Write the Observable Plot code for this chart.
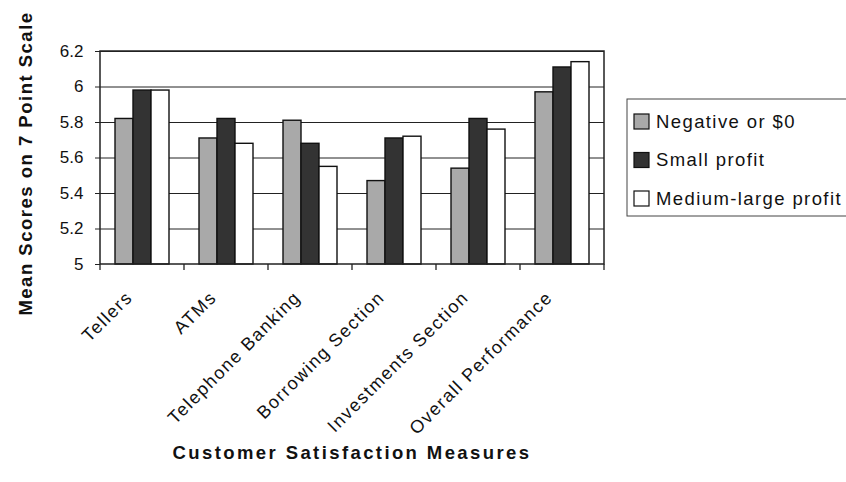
<!DOCTYPE html>
<html><head><meta charset="utf-8">
<script src="https://cdn.jsdelivr.net/npm/d3@7"></script>
<script src="https://cdn.jsdelivr.net/npm/@observablehq/plot@0.6"></script>
<style>
body{margin:0;background:#fff;}
#chart{position:relative;width:846px;height:482px;}
#chart g[aria-label="fx-axis tick label"] text{letter-spacing:1.5px;}
</style></head><body><div id="chart"></div>
<script>
const categories = ["Tellers","ATMs","Telephone Banking","Borrowing Section","Investments Section","Overall Performance"];
const series = ["Negative or $0","Small profit","Medium-large profit"];
const negative = [5.82,5.71,5.81,5.47,5.54,5.97];
const small = [5.98,5.82,5.68,5.71,5.82,6.11];
const medium = [5.98,5.68,5.55,5.72,5.76,6.14];
const yTicks = [5,5.2,5.4,5.6,5.8,6,6.2];
const seriesColors = ["#a9a9a9","#333333","#ffffff"];
const yTitle = "Mean Scores on 7 Point Scale";
const xTitle = "Customer Satisfaction Measures";

const data = categories.flatMap((c,i)=>[negative[i],small[i],medium[i]].map((v,j)=>({category:c, series:series[j], value:v})));
const FONT = "Arial, 'Liberation Sans', sans-serif";

const plot = Plot.plot({
  width:846, height:482,
  marginLeft:98, marginRight:241, marginTop:51, marginBottom:218,
  style:{fontFamily:FONT, fontSize:"17px", background:"#fff", color:"#111"},
  fx:{domain:categories, padding:0, label:null},
  x:{domain:series, axis:null, paddingInner:0, paddingOuter:0.8},
  y:{domain:[yTicks[0], yTicks[yTicks.length-1]], label:null},
  color:{domain:series, range:seriesColors},
  marks:[
    Plot.ruleY(yTicks.slice(1), {stroke:"#222", strokeWidth:1}),
    Plot.barY(data, {fx:"category", x:"series", y1:yTicks[0], y2:"value", fill:"series", stroke:"#111", strokeWidth:1.4}),
    Plot.axisY({ticks:yTicks, tickFormat:d=>String(+d.toFixed(1)), label:null, tickSize:5, tickPadding:12, fontSize:17, stroke:"#222"}),
    Plot.axisFx({anchor:"bottom", label:null, tickRotate:-45, tickSize:0, tickPadding:30, fontSize:18, dx:-13})
  ]
});
document.getElementById("chart").appendChild(plot);

const svg = d3.select(plot);
const fxS = plot.scale("fx"), yS = plot.scale("y"), colorS = plot.scale("color");
const pLeft = fxS.apply(categories[0]);
const pRight = fxS.apply(categories[categories.length-1]) + fxS.bandwidth;
const pTop = yS.apply(yTicks[yTicks.length-1]);
const pBottom = yS.apply(yTicks[0]);

// frame
svg.append("rect").attr("x",pLeft).attr("y",pTop).attr("width",pRight-pLeft).attr("height",pBottom-pTop)
  .attr("fill","none").attr("stroke","#222").attr("stroke-width",1.5);
// category boundary ticks
svg.append("g").selectAll("line").data(categories.concat([null])).join("line")
  .attr("x1",(d,i)=> i<categories.length ? fxS.apply(d) : pRight)
  .attr("x2",(d,i)=> i<categories.length ? fxS.apply(d) : pRight)
  .attr("y1",pBottom).attr("y2",pBottom+6).attr("stroke","#222").attr("stroke-width",1.3);

// y title
svg.append("text").attr("transform",`translate(32,${(pTop+pBottom)/2 + 6}) rotate(-90)`)
  .attr("text-anchor","middle").attr("font-family",FONT).attr("font-weight","bold").attr("font-size",18.5)
  .attr("letter-spacing",1.5).attr("fill","#111").text(yTitle);
// x title
svg.append("text").attr("x",(pLeft+pRight)/2).attr("y",459)
  .attr("text-anchor","middle").attr("font-family",FONT).attr("font-weight","bold").attr("font-size",18.5)
  .attr("letter-spacing",2.4).attr("fill","#111").text(xTitle);

// legend
const lg = svg.append("g").attr("transform","translate(627,99)");
lg.append("rect").attr("x",0).attr("y",0).attr("width",222).attr("height",117).attr("fill","#fff").attr("stroke","#444").attr("stroke-width",1);
const items = lg.selectAll("g.item").data(colorS.domain).join("g").attr("class","item")
  .attr("transform",(d,i)=>`translate(7,${15 + i*38.5})`);
items.append("rect").attr("width",15).attr("height",15).attr("fill",d=>colorS.apply(d)).attr("stroke","#111").attr("stroke-width",1.2);
items.append("text").attr("x",22).attr("y",7.5).attr("dy","0.35em").attr("text-anchor","start")
  .attr("font-family",FONT).attr("font-size",18.5).attr("letter-spacing",1.4).attr("fill","#111").text(d=>d);
</script></body></html>
